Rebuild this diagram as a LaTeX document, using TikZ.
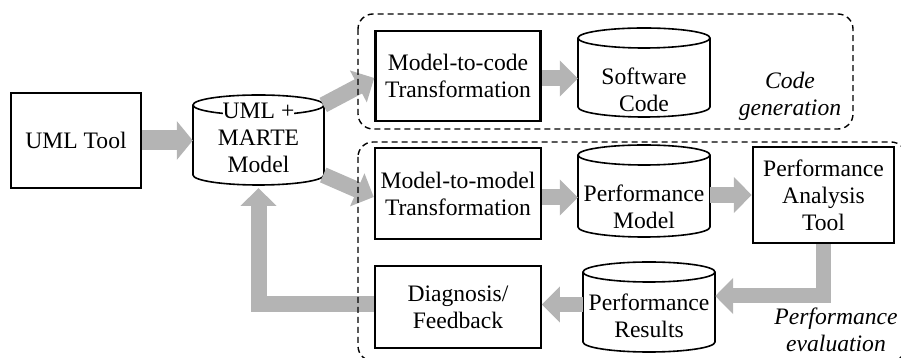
\documentclass[tikz,border=0pt]{standalone}
\usepackage{fontspec}
\setmainfont{Liberation Serif}
\usetikzlibrary{arrows.meta}
\definecolor{flowgray}{RGB}{180,180,180}

% cylinder outline: centre x, top y, bottom y, half width
\newcommand\cylshape[4]{%
  \draw[cylline] (#1,#2-10) ellipse[x radius=#4, y radius=10];
  \draw[cylline] (#1-#4,#2-10) -- (#1-#4,#3+10)
    arc[start angle=180, end angle=360, x radius=#4, y radius=10] -- (#1+#4,#2-10);
}
% text line set on a white ground, over the rim of a cylinder
\newcommand\onwhite[1]{{\setlength{\fboxsep}{0pt}\colorbox{white}{#1}}}

\begin{document}
\begin{tikzpicture}[x=1pt, y=1pt,
  font=\fontsize{23.6}{27}\selectfont,
  thickbox/.style={draw, line width=2.5pt, align=center, inner sep=0pt},
  thinbox/.style={draw, line width=1.6pt, align=center, inner sep=0pt},
  cyltext/.style={align=center, inner sep=0pt},
  cylline/.style={line width=1.6pt},
  flow/.style={draw=flowgray, line width=16pt, -{Triangle[length=18pt, width=35pt]}},
  group/.style={line width=1.4pt, dash pattern=on 6pt off 4pt, rounded corners=15pt},
  grouplabel/.style={align=center, font=\fontsize{23.6}{27}\selectfont\itshape, inner sep=0pt}]

\useasboundingbox (0,0) rectangle (901,358);
\clip (0,0) rectangle (901,358);

% rectangular blocks
\node[thickbox, minimum width=130, minimum height=95] (umltool) at (76,217.5) {UML Tool};
\node[thickbox, minimum width=165, minimum height=90] (m2c) at (458,282) {Model-to-code\\Transformation};
\node[thickbox, minimum width=166, minimum height=91] (m2m) at (458,164.5) {Model-to-model\\Transformation};
\node[thickbox, minimum width=141, minimum height=96] (pat) at (823.5,163) {Performance\\Analysis\\Tool};
\node[thinbox, minimum width=166, minimum height=82] (diag) at (458,51) {Diagnosis/\\Feedback};

% data stores
\cylshape{258.5}{263}{173}{65.5}
\node[cyltext, minimum width=131] (uml) at (258.5,220) {\onwhite{UML +}\\MARTE\\Model};
\cylshape{644}{330}{241}{66}
\node[cyltext, minimum width=132] (swcode) at (644,268) {Software\\Code};
\cylshape{644}{213}{121}{66}
\node[cyltext, minimum width=132] (perfmodel) at (644,151.5) {Performance\\Model};
\cylshape{649}{96}{6}{66}
\node[cyltext, minimum width=132] (results) at (649,42) {Performance\\Results};

% flows
\draw[flow, line width=20pt, -{Triangle[length=16pt, width=38pt]}] (umltool.east) -- (umltool.east -| uml.west);
\draw[flow] ([xshift=-1pt,yshift=33pt]uml.east) -- ([yshift=-2pt]m2c.west);
\draw[flow] ([xshift=-1pt,yshift=-37pt]uml.east) -- ([yshift=-3.5pt]m2m.west);
\draw[flow] ([yshift=-2.5pt]m2c.east) -- ([yshift=-2.5pt]m2c.east -| swcode.west);
\draw[flow] ([yshift=-4pt]m2m.east) -- ([yshift=-4pt]m2m.east -| perfmodel.west);
\draw[flow] (pat.west -| perfmodel.east) -- (pat.west);
\draw[flow, line width=15pt] (pat.south) |- ([yshift=20pt]results.east);
\draw[flow, line width=15pt] ([yshift=2.5pt]diag.east -| results.west) -- ([yshift=2.5pt]diag.east);
\draw[flow] ([yshift=2.5pt]diag.west) -| ([yshift=-50pt]uml.center);

% groups
\draw[group] (358,344) rectangle (853,229);
\draw[group] (358,216) rectangle (906,-3);
\node[grouplabel] (codegen) at (790,262) {Code\\generation};
\node[grouplabel] (perfeval) at (836,28) {Performance\\evaluation};
\end{tikzpicture}
\end{document}
